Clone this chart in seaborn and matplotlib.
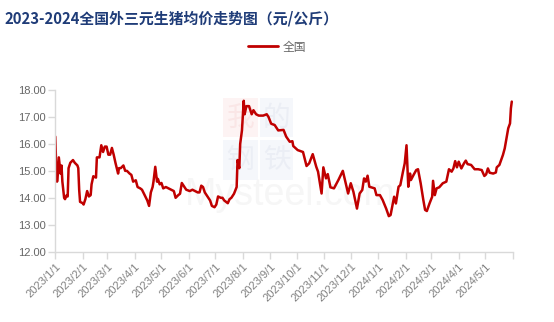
import matplotlib
matplotlib.use("Agg")
import matplotlib.pyplot as plt
import matplotlib.patches as mpatches
import pandas as pd
import seaborn as sns

# ---- data ----
dates = [
    "2023-01-01", "2023-01-02", "2023-01-03", "2023-01-04", "2023-01-05", "2023-01-07",
    "2023-01-08", "2023-01-09", "2023-01-11", "2023-01-12", "2023-01-14", "2023-01-15",
    "2023-01-16", "2023-01-18", "2023-01-21", "2023-01-23", "2023-01-26", "2023-01-27",
    "2023-01-28", "2023-01-29", "2023-02-01", "2023-02-02", "2023-02-04", "2023-02-06",
    "2023-02-08", "2023-02-10", "2023-02-11", "2023-02-13", "2023-02-16", "2023-02-17",
    "2023-02-20", "2023-02-22", "2023-02-24", "2023-02-26", "2023-02-28", "2023-03-02",
    "2023-03-04", "2023-03-06", "2023-03-08", "2023-03-10", "2023-03-13", "2023-03-14",
    "2023-03-16", "2023-03-19", "2023-03-21", "2023-03-23", "2023-03-26", "2023-03-28",
    "2023-03-30", "2023-04-02", "2023-04-04", "2023-04-07", "2023-04-09", "2023-04-12",
    "2023-04-15", "2023-04-17", "2023-04-19", "2023-04-21", "2023-04-22", "2023-04-24",
    "2023-04-26", "2023-04-27", "2023-04-29", "2023-05-01", "2023-05-03", "2023-05-06",
    "2023-05-09", "2023-05-12", "2023-05-15", "2023-05-17", "2023-05-20", "2023-05-22",
    "2023-05-24", "2023-05-26", "2023-05-29", "2023-06-02", "2023-06-05", "2023-06-08",
    "2023-06-11", "2023-06-13", "2023-06-15", "2023-06-17", "2023-06-19", "2023-06-22",
    "2023-06-25", "2023-06-27", "2023-06-30", "2023-07-02", "2023-07-04", "2023-07-07",
    "2023-07-09", "2023-07-11", "2023-07-13", "2023-07-15", "2023-07-17", "2023-07-19",
    "2023-07-22", "2023-07-25", "2023-07-26", "2023-07-28", "2023-07-29", "2023-07-31",
    "2023-08-02", "2023-08-03", "2023-08-05", "2023-08-08", "2023-08-11", "2023-08-13",
    "2023-08-16", "2023-08-19", "2023-08-24", "2023-08-28", "2023-08-30", "2023-09-02",
    "2023-09-06", "2023-09-10", "2023-09-16", "2023-09-19", "2023-09-23", "2023-09-26",
    "2023-09-27", "2023-10-02", "2023-10-08", "2023-10-12", "2023-10-15", "2023-10-19",
    "2023-10-23", "2023-10-25", "2023-10-29", "2023-10-31", "2023-11-03", "2023-11-05",
    "2023-11-08", "2023-11-12", "2023-11-17", "2023-11-22", "2023-11-24", "2023-11-28",
    "2023-12-01", "2023-12-04", "2023-12-08", "2023-12-11", "2023-12-14", "2023-12-16",
    "2023-12-18", "2023-12-20", "2023-12-22", "2023-12-28", "2023-12-30", "2024-01-03",
    "2024-01-06", "2024-01-10", "2024-01-13", "2024-01-15", "2024-01-19", "2024-01-21",
    "2024-01-24", "2024-01-26", "2024-01-29", "2024-01-31", "2024-02-02", "2024-02-03",
    "2024-02-04", "2024-02-06", "2024-02-07", "2024-02-10", "2024-02-13", "2024-02-15",
    "2024-02-18", "2024-02-21", "2024-02-23", "2024-02-25", "2024-02-28", "2024-03-02",
    "2024-03-03", "2024-03-05", "2024-03-07", "2024-03-10", "2024-03-14", "2024-03-18",
    "2024-03-21", "2024-03-24", "2024-03-26", "2024-03-28", "2024-03-30", "2024-04-01",
    "2024-04-04", "2024-04-07", "2024-04-09", "2024-04-11", "2024-04-15", "2024-04-19",
    "2024-04-23", "2024-04-27", "2024-04-30", "2024-05-02", "2024-05-04", "2024-05-06",
    "2024-05-10", "2024-05-13", "2024-05-14", "2024-05-17", "2024-05-19", "2024-05-21",
    "2024-05-23", "2024-05-25", "2024-05-27", "2024-05-29", "2024-05-30", "2024-05-31",
]
prices = [
    16.27, 15.20, 14.60, 14.90, 15.50, 14.90,
    15.20, 14.60, 14.00, 13.95, 14.10, 14.05,
    15.10, 15.30, 15.40, 15.30, 15.20, 15.10,
    14.30, 13.85, 13.80, 13.75, 13.95, 14.25,
    14.05, 14.10, 14.50, 14.80, 14.75, 15.50,
    15.50, 15.95, 15.70, 15.90, 15.90, 15.60,
    15.60, 15.85, 15.60, 15.30, 14.90, 15.10,
    15.10, 15.20, 15.00, 15.00, 14.90, 14.85,
    14.60, 14.65, 14.40, 14.35, 14.30, 14.10,
    13.90, 13.70, 14.20, 14.40, 14.60, 15.15,
    14.60, 14.70, 14.50, 14.55, 14.35, 14.40,
    14.35, 14.30, 14.25, 14.00, 14.10, 14.15,
    14.55, 14.45, 14.30, 14.25, 14.30, 14.25,
    14.20, 14.20, 14.45, 14.40, 14.20, 14.05,
    13.90, 13.70, 13.65, 13.75, 14.05, 14.00,
    14.00, 13.90, 13.85, 13.80, 13.95, 14.00,
    14.15, 14.40, 15.40, 15.10, 16.00, 16.50,
    17.60, 17.10, 17.40, 17.40, 17.10, 17.25,
    17.10, 17.05, 17.05, 17.10, 17.00, 16.75,
    16.70, 16.50, 16.52, 16.27, 16.08, 16.10,
    15.92, 15.77, 15.70, 15.18, 15.28, 15.62,
    15.15, 14.97, 14.16, 15.13, 14.72, 14.88,
    14.39, 14.35, 14.66, 15.00, 14.72, 14.16,
    14.54, 14.22, 13.60, 14.16, 14.29, 14.72,
    14.60, 14.82, 14.41, 14.35, 14.10, 14.10,
    13.92, 13.60, 13.32, 13.36, 14.04, 13.79,
    14.41, 14.47, 14.97, 15.28, 15.95, 15.18,
    14.41, 14.90, 14.66, 14.85, 15.03, 15.06,
    14.54, 13.92, 13.55, 13.51, 13.79, 14.04,
    14.63, 14.10, 14.35, 14.39, 14.54, 14.60,
    15.06, 14.97, 15.09, 15.36, 15.13, 15.34,
    15.09, 15.28, 15.38, 15.25, 15.22, 15.06,
    15.06, 15.03, 14.81, 14.87, 15.09, 14.93,
    14.90, 14.94, 15.13, 15.22, 15.40, 15.59,
    15.83, 16.21, 16.58, 16.76, 17.32, 17.57,
]
series_name = "全国"
title_text = "2023-2024全国外三元生猪均价走势图（元/公斤）"
y_ticks = [12, 13, 14, 15, 16, 17, 18]

df = pd.DataFrame({"日期": pd.to_datetime(dates), "价格": prices, "地区": series_name})

sns.set_style("white")
plt.rcParams["font.family"] = ["Liberation Sans", "Noto Sans CJK SC", "DejaVu Sans"]

fig = plt.figure(figsize=(5.54, 3.22), dpi=100)

# faint watermark (logo boxes + text) behind the plot
W, H = 554.0, 322.0
def box(x0, y0, x1, y1, color):
    fig.add_artist(mpatches.Rectangle((x0 / W, 1 - y1 / H), (x1 - x0) / W, (y1 - y0) / H,
                                      transform=fig.transFigure, facecolor=color,
                                      edgecolor="none", zorder=0))
box(223, 98, 258, 137, "#fdf3f3")
box(260, 98, 293, 137, "#f5f7fb")
box(223, 140, 258, 180, "#f5f7fb")
box(260, 140, 293, 180, "#f5f7fb")
for ch, cx, cy, col in [("我", 240.5, 117.5, "#fae6e6"), ("的", 276.5, 117.5, "#ebeef5"),
                        ("钢", 240.5, 160, "#ebeef5"), ("铁", 276.5, 160, "#ebeef5")]:
    fig.text(cx / W, 1 - cy / H, ch, fontsize=20, color=col, ha="center", va="center",
             family=["Noto Sans CJK SC"], zorder=0.5)
fig.text(290 / W, 1 - 195 / H, "Mysteel.com", fontsize=27, color="#f6f6f6",
         ha="center", va="center", zorder=0.5, family=["Liberation Sans"])

ax = fig.add_axes([0.0998, 0.2183, 0.8256, 0.5022])
ax.set_zorder(2)
ax.patch.set_alpha(0)

sns.lineplot(data=df, x="日期", y="价格", hue="地区", palette=["#c00000"],
             linewidth=1.8, ax=ax, legend=False)

ax.set_ylim(12, 18)
ax.set_yticks(y_ticks)
ax.set_yticklabels([f"{v:.2f}" for v in y_ticks])
ax.set_xlim(pd.Timestamp("2023-01-01"), pd.Timestamp("2024-06-01"))

month_ticks = pd.date_range("2023-01-01", "2024-05-01", freq="MS")
ax.set_xticks(month_ticks)
ax.set_xticklabels([f"{d.year}/{d.month}/1" for d in month_ticks],
                   rotation=45, ha="right", rotation_mode="anchor")
ax.set_xticks([pd.Timestamp("2024-06-01")], minor=True)

ax.set_xlabel("")
ax.set_ylabel("")
for s in ["top", "right"]:
    ax.spines[s].set_visible(False)
for s in ["left", "bottom"]:
    ax.spines[s].set_color("#d9d9d9")
    ax.spines[s].set_linewidth(1.0)

ax.tick_params(axis="y", which="major", length=5, color="#d9d9d9", width=1,
               labelsize=8, labelcolor="#666666", pad=2, left=True)
ax.tick_params(axis="x", which="both", length=5, color="#d9d9d9", width=1,
               labelsize=8, labelcolor="#808080", pad=2, bottom=True, direction="out")
ax.grid(False)

fig.text(0.009, 0.944, title_text, fontsize=10.7, fontweight="bold",
         color="#1f3c78", family=["Noto Sans CJK SC", "DejaVu Sans"], va="center", ha="left")

handle = plt.Line2D([], [], color="#c00000", linewidth=2)
fig.legend([handle], [series_name], loc="center", bbox_to_anchor=(0.5, 0.854),
           frameon=False, handlelength=2.6, handletextpad=0.4,
           prop={"family": ["Noto Sans CJK SC"], "size": 8.5}, labelcolor="#666666")

fig.savefig("out.png", dpi=100)
